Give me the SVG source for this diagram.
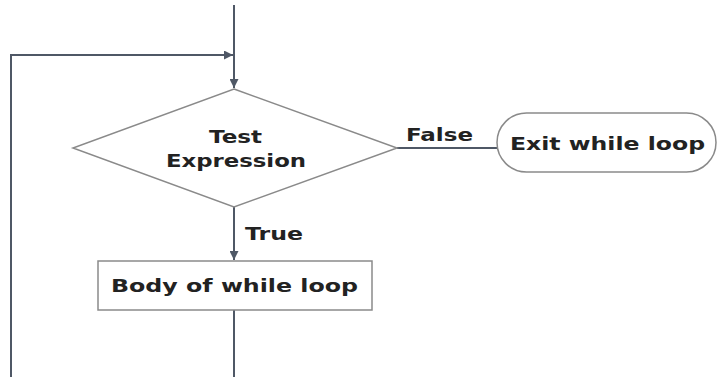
<svg xmlns="http://www.w3.org/2000/svg" width="718" height="377" viewBox="0 0 718 377">
<style>
.bg{fill:#ffffff}
.conn{fill:none;stroke:#4f5866;stroke-width:2}
.shape{fill:#ffffff;stroke:#8a8a8a;stroke-width:1.5}
.t{font-family:"DejaVu Sans",Verdana,sans-serif;font-weight:bold;font-size:18px;fill:#222222}
</style>
<defs>
<marker id="arr" viewBox="0 0 10 10" refX="10" refY="5" markerWidth="4.5" markerHeight="4.5" orient="auto" markerUnits="strokeWidth">
<path d="M0,0 L10,5 L0,10 z" fill="#4f5866"/>
</marker>
</defs>
<rect class="bg" x="0" y="0" width="718" height="377"/>
<g id="connectors">
<line class="conn" x1="234" y1="5" x2="234" y2="88" marker-end="url(#arr)"/>
<polyline class="conn" points="11,377 11,55 233,55" marker-end="url(#arr)"/>
<line class="conn" x1="397" y1="148" x2="497" y2="148" stroke="#666" stroke-width="1.5"/>
<line class="conn" x1="234" y1="207" x2="234" y2="260" marker-end="url(#arr)"/>
<line class="conn" x1="234" y1="310" x2="234" y2="377"/>
<text class="t" x="406" y="141" textLength="67" lengthAdjust="spacingAndGlyphs">False</text>
<text class="t" x="245" y="240" textLength="58" lengthAdjust="spacingAndGlyphs">True</text>
</g>
<g id="test">
<polygon class="shape" points="234,89 397,148 234,207 73,148"/>
<text class="t" x="209" y="143" textLength="53" lengthAdjust="spacingAndGlyphs">Test</text>
<text class="t" x="166" y="167" textLength="140" lengthAdjust="spacingAndGlyphs">Expression</text>
</g>
<g id="exit">
<rect class="shape" x="497" y="113" width="219" height="59" rx="29.5" ry="29.5"/>
<text class="t" x="510" y="150" textLength="195" lengthAdjust="spacingAndGlyphs">Exit while loop</text>
</g>
<g id="body">
<rect class="shape" x="98" y="261" width="274" height="49"/>
<text class="t" x="111" y="292" textLength="247" lengthAdjust="spacingAndGlyphs">Body of while loop</text>
</g>
</svg>
